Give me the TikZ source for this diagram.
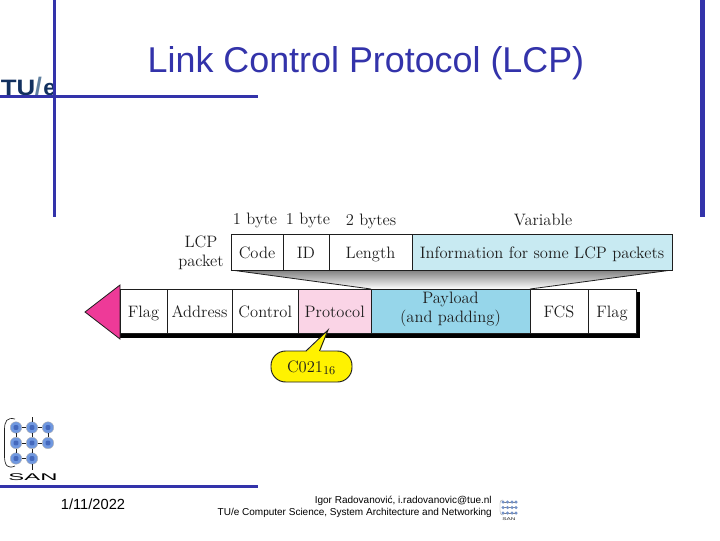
\documentclass[tikz,border=0pt]{standalone}
\usepackage{fontspec}
\newfontfamily\arialf{Liberation Sans}
\usetikzlibrary{shadings}
\definecolor{tue}{HTML}{3333AA}
\definecolor{tuedark}{HTML}{12305F}
\definecolor{tueslash}{HTML}{5F7F9F}
\definecolor{pinkp}{HTML}{FAD4E6}
\definecolor{bluep}{HTML}{96D6EA}
\definecolor{bluei}{HTML}{C8EAF2}
\definecolor{arrowp}{HTML}{EE3A98}
\definecolor{yel}{HTML}{FFF200}
\definecolor{inkc}{HTML}{1E1E1E}
\definecolor{nodeb}{HTML}{7098E0}
\definecolor{noded}{HTML}{4468BC}
\tikzset{
  x=0.75pt,y=-0.75pt,
  rule/.style={fill=tue,draw=none},
  cell/.style={draw=inkc,line width=0.7pt,inner sep=0pt,anchor=center},
  lbl/.style={inner sep=0pt,text=inkc,font=\fontsize{12.4}{14.5}\selectfont,align=center},
  blbl/.style={lbl,anchor=base},
  title/.style={inner sep=0pt,text=tue,font=\arialf\fontsize{26.9}{30}\selectfont},
  foot/.style={inner sep=0pt,text=black,font=\arialf\fontsize{7.5}{9.2}\selectfont,align=right},
  datef/.style={inner sep=0pt,text=black,font=\arialf\fontsize{11}{12}\selectfont},
  sannode/.style={circle,fill=nodeb,draw=gray!60,line width=0.3pt,minimum size=8.6pt,inner sep=0pt},
  sancore/.style={rectangle,rounded corners=0.6pt,fill=noded,minimum size=3.4pt,inner sep=0pt},
  minic/.style={circle,fill=nodeb!75!gray,minimum size=2.6pt,inner sep=0pt},
}
\newcommand{\cellat}[6]{%
  \node[cell,fill=#6,minimum width={(#3-#2)*0.75pt},minimum height={(#5-#4)*0.75pt}] (#1) at ({(#2+#3)/2},{(#4+#5)/2}) {};}
\begin{document}
\begin{tikzpicture}
\useasboundingbox (0,0) rectangle (720,540);
\fill[white] (0,0) rectangle (720,540);
% TU/e logo
\node[inner sep=0pt,anchor=base west,text=tuedark,xscale=1.16,font=\arialf\bfseries\fontsize{16.7}{17}\selectfont] (tu) at (0.5,95) {TU};
\node[inner sep=0pt,anchor=base west,text=tueslash,font=\arialf\bfseries\fontsize{19}{19}\selectfont] (slash) at (34.5,95) {/};
\node[inner sep=0pt,anchor=base west,text=tuedark,font=\arialf\bfseries\fontsize{17}{17}\selectfont] (e) at (43,95) {e};
% frame rules
\fill[rule] (52.5,0) rectangle (56,217);
\fill[rule] (700,0) rectangle (704.5,217);
\fill[rule] (0,94.5) rectangle (258,98);
\fill[rule] (0,484.5) rectangle (258,488);
\node[title,anchor=center] (ttl) at (366,63) {Link Control Protocol (LCP)};
% shaded wedge
\coordinate (wa) at (231,270);
\coordinate (wb) at (672,270);
\coordinate (wc) at (530,289);
\coordinate (wd) at (371,289);
\shade[top color=black!50,bottom color=white] (wa) -- (wb) -- (wc) -- (wd) -- cycle;
\draw[inkc,line width=0.6pt] (wa) -- (wd) (wb) -- (wc);
% frame shadow
\fill[black] (120,333) rectangle (639,337.5);
\fill[black] (636,292) rectangle (639.5,337.5);
% arrow
\coordinate (tipn) at (85,312);
\draw[fill=arrowp,draw=inkc,line width=0.6pt] (tipn) -- (120,285) -- (120,339) -- cycle;
% LCP row
\cellat{code}{231}{283}{234}{270}{white}
\cellat{idc}{283}{329}{234}{270}{white}
\cellat{leng}{329}{412}{234}{270}{white}
\cellat{info}{412}{672}{234}{270}{bluei}
\node[blbl] at (code |- 0,258) {Code};
\node[blbl] at (idc |- 0,258) {ID};
\node[blbl] at (leng |- 0,258) {Length};
\node[blbl] at (info |- 0,258) {Information for some LCP packets};
% frame row
\cellat{f1}{120}{167}{289}{333}{white}
\cellat{f2}{167}{232}{289}{333}{white}
\cellat{f3}{232}{298.5}{289}{333}{white}
\cellat{f4}{298.5}{371}{289}{333}{pinkp}
\cellat{f5}{371}{530}{289}{333}{bluep}
\cellat{f6}{530}{588}{289}{333}{white}
\cellat{f7}{588}{636}{289}{333}{white}
\node[blbl] at (f1 |- 0,317) {Flag};
\node[blbl] at (f2 |- 0,317) {Address};
\node[blbl] at (f3 |- 0,317) {Control};
\node[blbl] at (f4 |- 0,317) {Protocol};
\node[lbl,yshift=1.3pt] at (f5) {Payload\\(and padding)};
\node[blbl] at (f6 |- 0,317) {FCS};
\node[blbl] at (f7 |- 0,317) {Flag};
% top labels
\node[blbl] at (255,224) {1 byte};
\node[blbl] at (308,224) {1 byte};
\node[blbl] at (371,225.5) {2 bytes};
\node[blbl] at (543,225.5) {Variable};
\node[lbl] at (201,252.5) {LCP\\packet};
% callout
\coordinate (ctip) at (328,330);
\node[draw=inkc,fill=yel,line width=0.7pt,rounded corners=11pt,inner sep=0pt,minimum width=60.75pt,minimum height=23.25pt] (cbox) at (311.5,366.5) {};
\fill[yel] (ctip) -- (320,352) -- (306,352) -- cycle;
\draw[inkc,line width=0.7pt] (306,351) -- (ctip) -- (319.5,351);
\node[lbl] (cval) at (311.5,367.5) {C021$_{16}$};
% SAN logo
\draw[inkc,line width=0.5pt] (15,419) .. controls (7,417) and (4.5,421) .. (4.5,430) -- (4.5,456) .. controls (4.5,466) and (8,469) .. (15,466);
\foreach \n/\a/\b in {s1/16/427.5,s2/32/427.5,s3/48/427.5,s4/16/443,s5/32/443,s6/48/443,s7/16/458.5,s8/32/458.5}{
  \node[sannode] (\n) at (\a,\b) {};
}
\draw[inkc,line width=0.5pt] (32,417) -- (s2) (s2) -- (s5) (s5) -- (s8) (s8) -- (32,470);
\draw[inkc,line width=0.5pt] (s1) -- (s4) (s4) -- (s7) (s3) -- (s6) (s1) -- (s2) (s2) -- (s3) (s4) -- (s5) (s5) -- (s6) (s7) -- (s8);
\foreach \n in {s1,s2,s3,s4,s5,s6,s7,s8}{\node[sancore] at (\n) {};}
\node[inner sep=0pt,font=\arialf\fontsize{7.3}{8}\selectfont,text=black,xscale=2.45] (san) at (33,477) {SAN};
% footer
\node[datef] (dt) at (93,504) {1/11/2022};
\node[foot,anchor=north east] (ft) at (492,496) {Igor Radovanović, i.radovanovic@tue.nl\\TU/e Computer Science, System Architecture and Networking};
% mini logo
\draw[gray!80,line width=0.25pt] (503,500) .. controls (500,500) and (500,501) .. (500,507) .. controls (500,513) and (500,515) .. (503,515);
\foreach \b in {502,507.5,513}{
  \draw[gray,line width=0.25pt] (502,\b) -- (517,\b);
  \foreach \a in {503,507.5,512,516}{\node[minic] at (\a,\b) {};}
}
\node[inner sep=0pt,font=\arialf\fontsize{3}{3}\selectfont,text=inkc,xscale=1.6] (sanm) at (509,519.5) {SAN};
\end{tikzpicture}
\end{document}
